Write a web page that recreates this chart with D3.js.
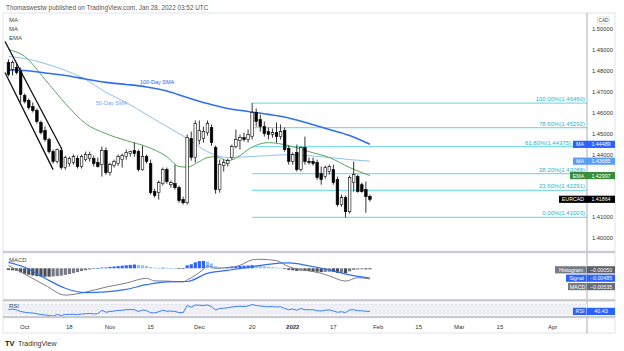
<!DOCTYPE html>
<html><head><meta charset="utf-8">
<script src="https://cdn.jsdelivr.net/npm/d3@7"></script>
<style>html,body{margin:0;padding:0;background:#fff;}svg{display:block;font-family:"Liberation Sans",Arial,sans-serif;}</style>
</head><body><svg id="c" width="624" height="351"></svg>
<script>
// ---------- DATA ----------
const firstBar = -4; // bar index of first candle (Oct 1 2021 = 0, weekdays only)
const openV  = [1.4840,1.4807,1.4816,1.4797,1.4682,1.4658,1.4630,1.4611,1.4553,1.4515,1.4472,1.4414,1.4367,1.4419,1.4338,1.4357,1.4362,1.4381,1.4343,1.4376,1.4381,1.4381,1.4362,1.4352,1.4419,1.4314,1.4347,1.4357,1.4376,1.4390,1.4405,1.4419,1.4414,1.4328,1.4390,1.4357,1.4223,1.4218,1.4261,1.4328,1.4256,1.4261,1.4242,1.4185,1.4170,1.4477,1.4386,1.4467,1.4477,1.4505,1.4529,1.4433,1.4233,1.4347,1.4357,1.4386,1.4438,1.4467,1.4481,1.4472,1.4486,1.4601,1.4567,1.4534,1.4510,1.4496,1.4505,1.4486,1.4515,1.4429,1.4367,1.4410,1.4328,1.4433,1.4367,1.4367,1.4362,1.4309,1.4295,1.4319,1.4328,1.4280,1.4161,1.4194,1.4127,1.4266,1.4295,1.4256,1.4233,1.4199];
const highV  = [1.4855,1.4850,1.4835,1.4816,1.4692,1.4668,1.4649,1.4620,1.4563,1.4534,1.4481,1.4424,1.4429,1.4434,1.4395,1.4390,1.4400,1.4395,1.4400,1.4414,1.4414,1.4395,1.4386,1.4438,1.4434,1.4362,1.4376,1.4400,1.4405,1.4424,1.4419,1.4457,1.4424,1.4443,1.4400,1.4376,1.4237,1.4276,1.4338,1.4338,1.4276,1.4352,1.4252,1.4199,1.4496,1.4510,1.4563,1.4563,1.4534,1.4563,1.4544,1.4443,1.4376,1.4376,1.4381,1.4448,1.4520,1.4496,1.4505,1.4520,1.4646,1.4620,1.4591,1.4558,1.4529,1.4524,1.4553,1.4544,1.4529,1.4443,1.4410,1.4448,1.4438,1.4486,1.4386,1.4386,1.4376,1.4343,1.4347,1.4352,1.4352,1.4295,1.4209,1.4204,1.4300,1.4367,1.4304,1.4266,1.4271,1.4209];
const lowV   = [1.4773,1.4778,1.4783,1.4649,1.4644,1.4615,1.4601,1.4548,1.4496,1.4462,1.4405,1.4357,1.4357,1.4328,1.4328,1.4343,1.4352,1.4333,1.4333,1.4367,1.4367,1.4343,1.4338,1.4295,1.4304,1.4300,1.4338,1.4347,1.4338,1.4376,1.4390,1.4390,1.4319,1.4323,1.4357,1.4209,1.4194,1.4185,1.4252,1.4261,1.4242,1.4233,1.4170,1.4161,1.4161,1.4371,1.4362,1.4448,1.4457,1.4491,1.4443,1.4213,1.4218,1.4319,1.4343,1.4376,1.4429,1.4424,1.4462,1.4457,1.4472,1.4534,1.4510,1.4486,1.4472,1.4481,1.4457,1.4472,1.4414,1.4352,1.4352,1.4319,1.4319,1.4352,1.4352,1.4347,1.4280,1.4256,1.4285,1.4304,1.4256,1.4151,1.4151,1.41003,1.4118,1.4223,1.4218,1.4218,1.4122,1.4175];
const closeV = [1.4783,1.4840,1.4792,1.4687,1.4654,1.4625,1.4611,1.4558,1.4505,1.4472,1.4414,1.4367,1.4424,1.4338,1.4386,1.4381,1.4390,1.4343,1.4390,1.4400,1.4400,1.4357,1.4343,1.4419,1.4314,1.4352,1.4367,1.4390,1.4395,1.4410,1.4414,1.4405,1.4328,1.4390,1.4367,1.4218,1.4204,1.4266,1.4328,1.4271,1.4266,1.4242,1.4180,1.4170,1.4481,1.4386,1.4548,1.4515,1.4510,1.4548,1.4457,1.4233,1.4352,1.4362,1.4371,1.4438,1.4472,1.4481,1.4472,1.4496,1.4601,1.4558,1.4534,1.4500,1.4496,1.4505,1.4486,1.4510,1.4424,1.4367,1.4400,1.4328,1.4433,1.4367,1.4362,1.4357,1.4290,1.4280,1.4338,1.4343,1.4266,1.4161,1.4194,1.4127,1.4290,1.4304,1.4223,1.4223,1.4199,1.41864];

const sma100Idx = [-4,0,5,10,15,20,25,30,35,40,45,50,55,60,65,70,75,80,85];
const sma100 = [1.4804,1.4802,1.4790,1.4778,1.4761,1.4745,1.4735,1.4723,1.4704,1.4673,1.4644,1.4620,1.4606,1.4592,1.4575,1.4548,1.4520,1.4491,1.44489];
const sma50 = [1.4869,1.4859,1.4835,1.4802,1.4759,1.4697,1.4649,1.4591,1.4534,1.4477,1.4414,1.4386,1.4390,1.4395,1.4400,1.4395,1.4386,1.4376,1.43685];
const emaIdx = [-4,0,5,10,15,20,25,30,35,38,40,43,45,47,50,53,55,60,65,70,75,80,85];
const ema20 = [1.4902,1.4869,1.4759,1.4644,1.4548,1.4500,1.4467,1.4438,1.4390,1.4343,1.4340,1.4367,1.4386,1.4390,1.4371,1.4395,1.4424,1.4457,1.4443,1.4414,1.4386,1.4338,1.42997];

const channelUpper = [{i:-4.85,p:1.4940},{i:9.2,p:1.4424}];
const channelLower = [{i:-4.85,p:1.4792},{i:7.0,p:1.4328}];

const fibHigh = 1.46460, fibLow = 1.41003, fibStartBar = 56;
const fibRatios = [1, 0.786, 0.618, 0.382, 0.236, 0];

const macdIdx = [-4,0,5,10,15,20,25,30,32,35,39,40,42,44,45,47,50,53,56,58,62,65,70,73,75,79,82,85];
const macdV = [0.0014,-0.0029,-0.0084,-0.0134,-0.0119,-0.0094,-0.0074,-0.0050,-0.0063,-0.0064,-0.0068,-0.0058,-0.0035,-0.0005,0.0012,0.0000,0.0003,0.0015,0.0042,0.0045,0.0038,0.0008,-0.0013,-0.0025,-0.0038,-0.0064,-0.0047,-0.00535];
const signalIdx = [-4,0,5,10,15,20,25,30,35,40,45,50,55,60,65,70,75,80,85];
const signalV = [0.0030,0.0005,-0.0050,-0.0100,-0.0122,-0.0118,-0.0105,-0.0082,-0.0068,-0.0066,-0.0025,-0.0010,0.0005,0.0020,0.0027,0.0012,-0.0008,-0.0033,-0.00485];
const histV = [-0.0008,-0.0010,-0.0012,-0.0020,-0.0027,-0.0032,-0.0036,-0.0039,-0.0041,-0.0042,-0.0042,-0.0041,-0.0039,-0.0037,-0.0033,-0.0029,-0.0024,-0.0019,-0.0014,-0.0010,-0.0006,-0.0002,0.0001,0.0004,0.0004,0.0007,0.0009,0.0011,0.0013,0.0015,0.0017,0.0019,0.0017,0.0015,0.0011,0.0006,0.0003,0.0002,0.0003,0.0002,0.0001,0.0000,-0.0002,-0.0003,0.0015,0.0020,0.0030,0.0036,0.0037,0.0033,0.0024,0.0010,0.0006,0.0005,0.0007,0.0009,0.0011,0.0012,0.0013,0.0014,0.0016,0.0015,0.0012,0.0010,0.0008,0.0006,0.0004,0.0002,-0.0003,-0.0008,-0.0010,-0.0013,-0.0012,-0.0013,-0.0014,-0.0015,-0.0017,-0.0019,-0.0018,-0.0017,-0.0019,-0.0023,-0.0022,-0.0024,-0.0015,-0.0008,-0.0006,-0.0005,-0.0005,-0.0005];
const rsiV = [47,50,46,40,37,35,34,31,28,26,24,22,28,24,28,28,29,27,30,31,32,30,31,45,37,40,42,44,45,47,48,47,40,46,44,35,34,39,45,41,42,40,36,35,64,57,66,65,64,66,60,46,52,53,55,58,60,61,60,62,68,64,62,60,59,60,58,59,52,47,50,45,52,47,47,47,43,42,45,46,42,37,39,36,46,47,43,43,41,40.43];

const tickIdx = [0,11,21,31,43,56,66,76,87,97,107,117,130];
const tickLabels = ["Oct","18","Nov","15","Dec","20","2022","17","Feb","15","Mar","15","Apr"];
const priceTicks = [1.40,1.41,1.42,1.43,1.44,1.45,1.46,1.47,1.48,1.49,1.50];

// ---------- CHART ----------
const svg = d3.select("#c");
const L = 3, R = 615, AX = 587, TOP = 13, BOT = 333;
const x = d3.scaleLinear().domain([0,130]).range([24.7,552.7]);
const y = d3.scaleLinear().domain([1.40,1.50]).range([238.3,29]);
const ym = d3.scaleLinear().domain([-0.015,0.005]).range([298.3,258.3]);
const yr = d3.scaleLinear().domain([30,70]).range([314,304]);

svg.append("rect").attr("width",624).attr("height",351).attr("fill","#fff");
svg.append("text").attr("x",6).attr("y",9.5).attr("font-size",6.4).attr("fill","#555")
  .text("Thomaswestw published on TradingView.com, Jan 28, 2022 03:52 UTC");

const defs = svg.append("defs");
defs.append("clipPath").attr("id","mainclip").append("rect").attr("x",L+1).attr("y",TOP+1).attr("width",AX-L-1).attr("height",251-TOP-1);
defs.append("clipPath").attr("id","macdclip").append("rect").attr("x",L+1).attr("y",253).attr("width",AX-L-1).attr("height",46);
defs.append("clipPath").attr("id","rsiclip").append("rect").attr("x",L+1).attr("y",301).attr("width",AX-L-1).attr("height",15);

// frame
svg.append("rect").attr("x",L).attr("y",TOP).attr("width",R-L).attr("height",BOT-TOP).attr("fill","none").attr("stroke","#e0e3eb").attr("stroke-width",1);

const main = svg.append("g").attr("clip-path","url(#mainclip)");
const bars = d3.range(closeV.length).map(k=>({i:firstBar+k,o:openV[k],h:highV[k],l:lowV[k],c:closeV[k]}));

// fib lines
fibRatios.forEach(r=>{
  const p = fibLow + r*(fibHigh-fibLow);
  main.append("line").attr("x1",x(fibStartBar)).attr("x2",AX).attr("y1",y(p)).attr("y2",y(p))
    .attr("stroke","#80deea").attr("stroke-width",1.2);
  const lx = (r===0.618) ? 571 : 585; // keep clear of the MA tag
  svg.append("text").attr("x",lx).attr("y",y(p)-2).attr("text-anchor","end").attr("font-size",6)
    .attr("fill","#26b5cc").text((r*100).toFixed(2)+"%("+p.toFixed(5)+")");
});

// moving averages
const line = d3.line().curve(d3.curveMonotoneX);
main.append("path").attr("d",line(sma100Idx.map((d,k)=>[x(d),y(sma50[k])]))).attr("fill","none").attr("stroke","#90bff9").attr("stroke-width",1);
main.append("path").attr("d",line(emaIdx.map((d,k)=>[x(d),y(ema20[k])]))).attr("fill","none").attr("stroke","#5aa55e").attr("stroke-width",1);
main.append("path").attr("d",line(sma100Idx.map((d,k)=>[x(d),y(sma100[k])]))).attr("fill","none").attr("stroke","#2f6ff0").attr("stroke-width",1.6);

// candles
const bw = 2.6;
main.selectAll(".wick").data(bars).enter().append("line")
  .attr("x1",d=>x(d.i)).attr("x2",d=>x(d.i)).attr("y1",d=>y(d.h)).attr("y2",d=>y(d.l))
  .attr("stroke","#000").attr("stroke-width",0.8);
main.selectAll(".body").data(bars).enter().append("rect")
  .attr("x",d=>x(d.i)-bw/2).attr("width",bw)
  .attr("y",d=>y(Math.max(d.o,d.c))).attr("height",d=>Math.max(0.8,Math.abs(y(d.o)-y(d.c))))
  .attr("fill",d=>d.c>=d.o?"#fff":"#000").attr("stroke","#000").attr("stroke-width",0.6);

// channel
[channelUpper,channelLower].forEach(ch=>{
  main.append("line").attr("x1",x(ch[0].i)).attr("y1",y(ch[0].p)).attr("x2",x(ch[1].i)).attr("y2",y(ch[1].p))
    .attr("stroke","#111").attr("stroke-width",1.3);
});

// line labels
svg.append("text").attr("x",140).attr("y",84).attr("font-size",5.5).attr("fill","#2962ff").text("100-Day SMA");
svg.append("text").attr("x",96).attr("y",105).attr("font-size",5.5).attr("fill","#6aa6f8").text("50-Day SMA");

// legend
["MA","MA","EMA"].forEach((t,k)=>svg.append("text").attr("x",9).attr("y",22+k*9).attr("font-size",6).attr("fill","#444").text(t));

// right axis
svg.append("line").attr("x1",AX).attr("x2",AX).attr("y1",TOP).attr("y2",BOT).attr("stroke","#9598a1").attr("stroke-width",0.8);
const tagVals = [sma100[sma100.length-1], sma50[sma50.length-1], ema20[ema20.length-1], closeV[closeV.length-1]];
priceTicks.forEach(p=>{
  if (tagVals.some(v=>Math.abs(y(v)-y(p))<5)) return;
  svg.append("text").attr("x",592).attr("y",y(p)+2).attr("font-size",5.8).attr("fill","#333").text(p.toFixed(5));
});
svg.append("rect").attr("x",597.5).attr("y",17).attr("width",12).attr("height",7).attr("rx",1.5).attr("fill","#fff").attr("stroke","#c8cad0").attr("stroke-width",0.6);
svg.append("text").attr("x",603.5).attr("y",22.3).attr("text-anchor","middle").attr("font-size",4.8).attr("fill","#444").text("CAD");

function tag(val, yy, label, lw, c1, c2, txt){
  svg.append("rect").attr("x",AX-lw).attr("y",yy-3.6).attr("width",lw).attr("height",7.2).attr("fill",c1);
  svg.append("rect").attr("x",AX).attr("y",yy-3.6).attr("width",R-AX).attr("height",7.2).attr("fill",c2);
  svg.append("text").attr("x",AX-lw/2).attr("y",yy+2).attr("text-anchor","middle").attr("font-size",5.3).attr("fill","#fff").text(label);
  svg.append("text").attr("x",AX+(R-AX)/2).attr("y",yy+2).attr("text-anchor","middle").attr("font-size",5.3).attr("fill","#fff").text(txt);
}
tag(0, y(tagVals[0]), "MA", 14, "#2962ff", "#2962ff", tagVals[0].toFixed(5));
tag(0, y(tagVals[1]), "MA", 14, "#5b9cf6", "#5b9cf6", tagVals[1].toFixed(5));
tag(0, y(tagVals[2]), "EMA", 17, "#388e3c", "#388e3c", tagVals[2].toFixed(5));
tag(0, y(tagVals[3]), "EURCAD", 28, "#000", "#000", tagVals[3].toFixed(5));

// pane separators
[252,300.3,317].forEach(yy=>svg.append("rect").attr("x",L).attr("y",yy-1.2).attr("width",R-L).attr("height",2.4).attr("fill","#c9cbd1"));

// MACD pane
const mg = svg.append("g").attr("clip-path","url(#macdclip)");
const fmt = v => (v<0?"\u2212":"")+Math.abs(v).toFixed(5);
mg.selectAll(".h").data(histV).enter().append("rect")
  .attr("x",(d,k)=>x(firstBar+k)-1.6).attr("width",3.2)
  .attr("y",d=>Math.min(ym(d),ym(0))).attr("height",d=>Math.max(0.7,Math.abs(ym(d)-ym(0))))
  .attr("fill",(d,k)=>{const prev=k>0?histV[k-1]:d; if(d>=0) return d>=prev?"#2962ff":"#90bff9"; return d<=prev?"#4a4e58":"#787b86";});
mg.append("path").attr("d",line(macdIdx.map((d,k)=>[x(d),ym(macdV[k])]))).attr("fill","none").attr("stroke","#7b7e87").attr("stroke-width",1);
mg.append("path").attr("d",line(signalIdx.map((d,k)=>[x(d),ym(signalV[k])]))).attr("fill","none").attr("stroke","#2f6ff0").attr("stroke-width",1.2);
svg.append("text").attr("x",9).attr("y",262).attr("font-size",6).attr("fill","#444").text("MACD");
function tag2(yy,label,lw,c1,c2,txt){
  svg.append("rect").attr("x",AX-lw).attr("y",yy-3.6).attr("width",lw-0.5).attr("height",7.2).attr("fill",c1);
  svg.append("rect").attr("x",AX).attr("y",yy-3.6).attr("width",R-AX).attr("height",7.2).attr("fill",c2);
  svg.append("text").attr("x",AX-lw/2).attr("y",yy+2).attr("text-anchor","middle").attr("font-size",5.3).attr("fill","#fff").text(label);
  svg.append("text").attr("x",AX+(R-AX)/2).attr("y",yy+2).attr("text-anchor","middle").attr("font-size",5.3).attr("fill","#fff").text(txt);
}
tag2(269.8,"Histogram",32,"#787b86","#5d606b",fmt(histV[histV.length-1]));
tag2(278.2,"Signal",21,"#2962ff","#2962ff",fmt(signalV[signalV.length-1]));
tag2(286.6,"MACD",19,"#787b86","#6a6d78",fmt(macdV[macdV.length-1]));

// RSI pane
const rg = svg.append("g").attr("clip-path","url(#rsiclip)");
rg.append("rect").attr("x",L).attr("width",AX-L).attr("y",yr(70)).attr("height",yr(30)-yr(70)).attr("fill","#eef0f5");
[70,30].forEach(v=>rg.append("line").attr("x1",L).attr("x2",AX).attr("y1",yr(v)).attr("y2",yr(v)).attr("stroke","#c9cbd1").attr("stroke-width",0.6).attr("stroke-dasharray","2,2"));
rg.append("path").attr("d",d3.line()(rsiV.map((d,k)=>[x(firstBar+k),yr(d)]))).attr("fill","none").attr("stroke","#3d7cf5").attr("stroke-width",1);
svg.append("text").attr("x",9).attr("y",308).attr("font-size",6).attr("fill","#444").text("RSI");
tag2(yr(rsiV[rsiV.length-1]),"RSI",14,"#2962ff","#2962ff",rsiV[rsiV.length-1].toFixed(2));

// x axis labels
tickIdx.forEach((t,k)=>{
  svg.append("text").attr("x",x(t)).attr("y",329).attr("text-anchor","middle").attr("font-size",6)
    .attr("font-weight",tickLabels[k]==="2022"?"bold":"normal").attr("fill","#333").text(tickLabels[k]);
});

// footer logo
svg.append("text").attr("x",5).attr("y",345.5).attr("font-size",7.5).attr("font-weight","bold").attr("fill","#131722").text("TV");
svg.append("text").attr("x",18).attr("y",345.5).attr("font-size",7).attr("fill","#333").text("TradingView");
</script></body></html>
